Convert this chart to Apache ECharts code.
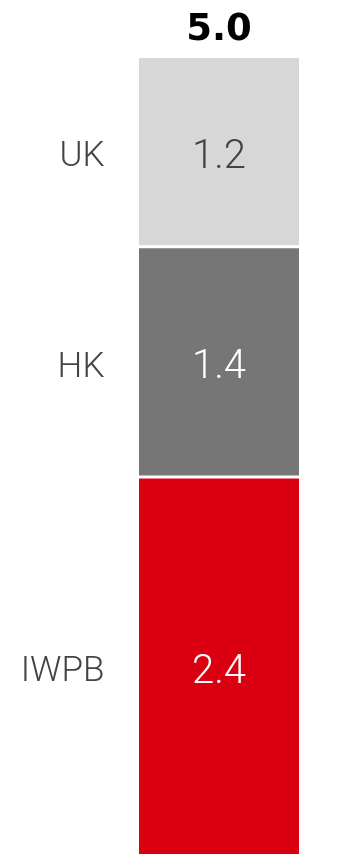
<!DOCTYPE html>
<html>
<head>
<meta charset="utf-8">
<script src="https://cdn.jsdelivr.net/npm/echarts@6/dist/echarts.min.js"></script>
<style>
html,body{margin:0;padding:0;background:#fff;overflow:hidden;}
#chart{width:361px;height:856px;}
</style>
</head>
<body>
<div id="chart"></div>
<script>
// Data (bottom to top); heights, labels shown rounded
const segments = ['IWPB', 'HK', 'UK'];
const values = [2.37, 1.44, 1.19];
const colors = ['#db0011', '#767676', '#d7d7d7'];
const valueLabelColors = ['#ffffff', '#ffffff', '#444444'];
const categories = ['Total'];

const total = values.reduce((a, b) => a + b, 0);

const chart = echarts.init(document.getElementById('chart'));
const series = [];
segments.forEach((name, i) => {
  series.push({
    name: name,
    type: 'bar',
    stack: 'main',
    barWidth: 163,
    barGap: '-100%',
    data: [values[i]],
    itemStyle: { color: colors[i], borderColor: '#ffffff', borderWidth: 1.5 },
    label: {
      show: true,
      position: 'inside',
      offset: [0, 6],
      formatter: () => values[i].toFixed(1),
      color: valueLabelColors[i],
      fontFamily: 'Roboto',
      fontWeight: 300,
      fontSize: 40
    },
    silent: true
  });
});
segments.forEach((name, i) => {
  series.push({
    name: name + '_name',
    type: 'bar',
    stack: 'names',
    barWidth: 163,
    barGap: '-100%',
    data: [values[i]],
    itemStyle: { color: 'rgba(0,0,0,0)' },
    label: {
      show: true,
      position: 'left',
      distance: 33,
      offset: [0, 6],
      formatter: () => name,
      color: '#444444',
      fontFamily: 'Roboto',
      fontWeight: 300,
      fontSize: 35
    },
    silent: true
  });
});
series.push({
  name: 'total',
  type: 'bar',
  stack: 'main',
  barWidth: 163,
  data: [0],
  itemStyle: { color: 'rgba(0,0,0,0)' },
  label: {
    show: true,
    position: 'top',
    distance: 8,
    formatter: () => total.toFixed(1),
    color: '#000000',
    fontFamily: 'DejaVu Sans',
    fontWeight: 'bold',
    fontSize: 37
  },
  silent: true
});

chart.setOption({
  animation: false,
  grid: { left: 77, right: 0, top: 56.5, bottom: 0, containLabel: false },
  xAxis: {
    type: 'category',
    data: categories,
    show: false
  },
  yAxis: {
    type: 'value',
    min: 0,
    max: 5,
    show: false
  },
  series: series
});
</script>
</body>
</html>
